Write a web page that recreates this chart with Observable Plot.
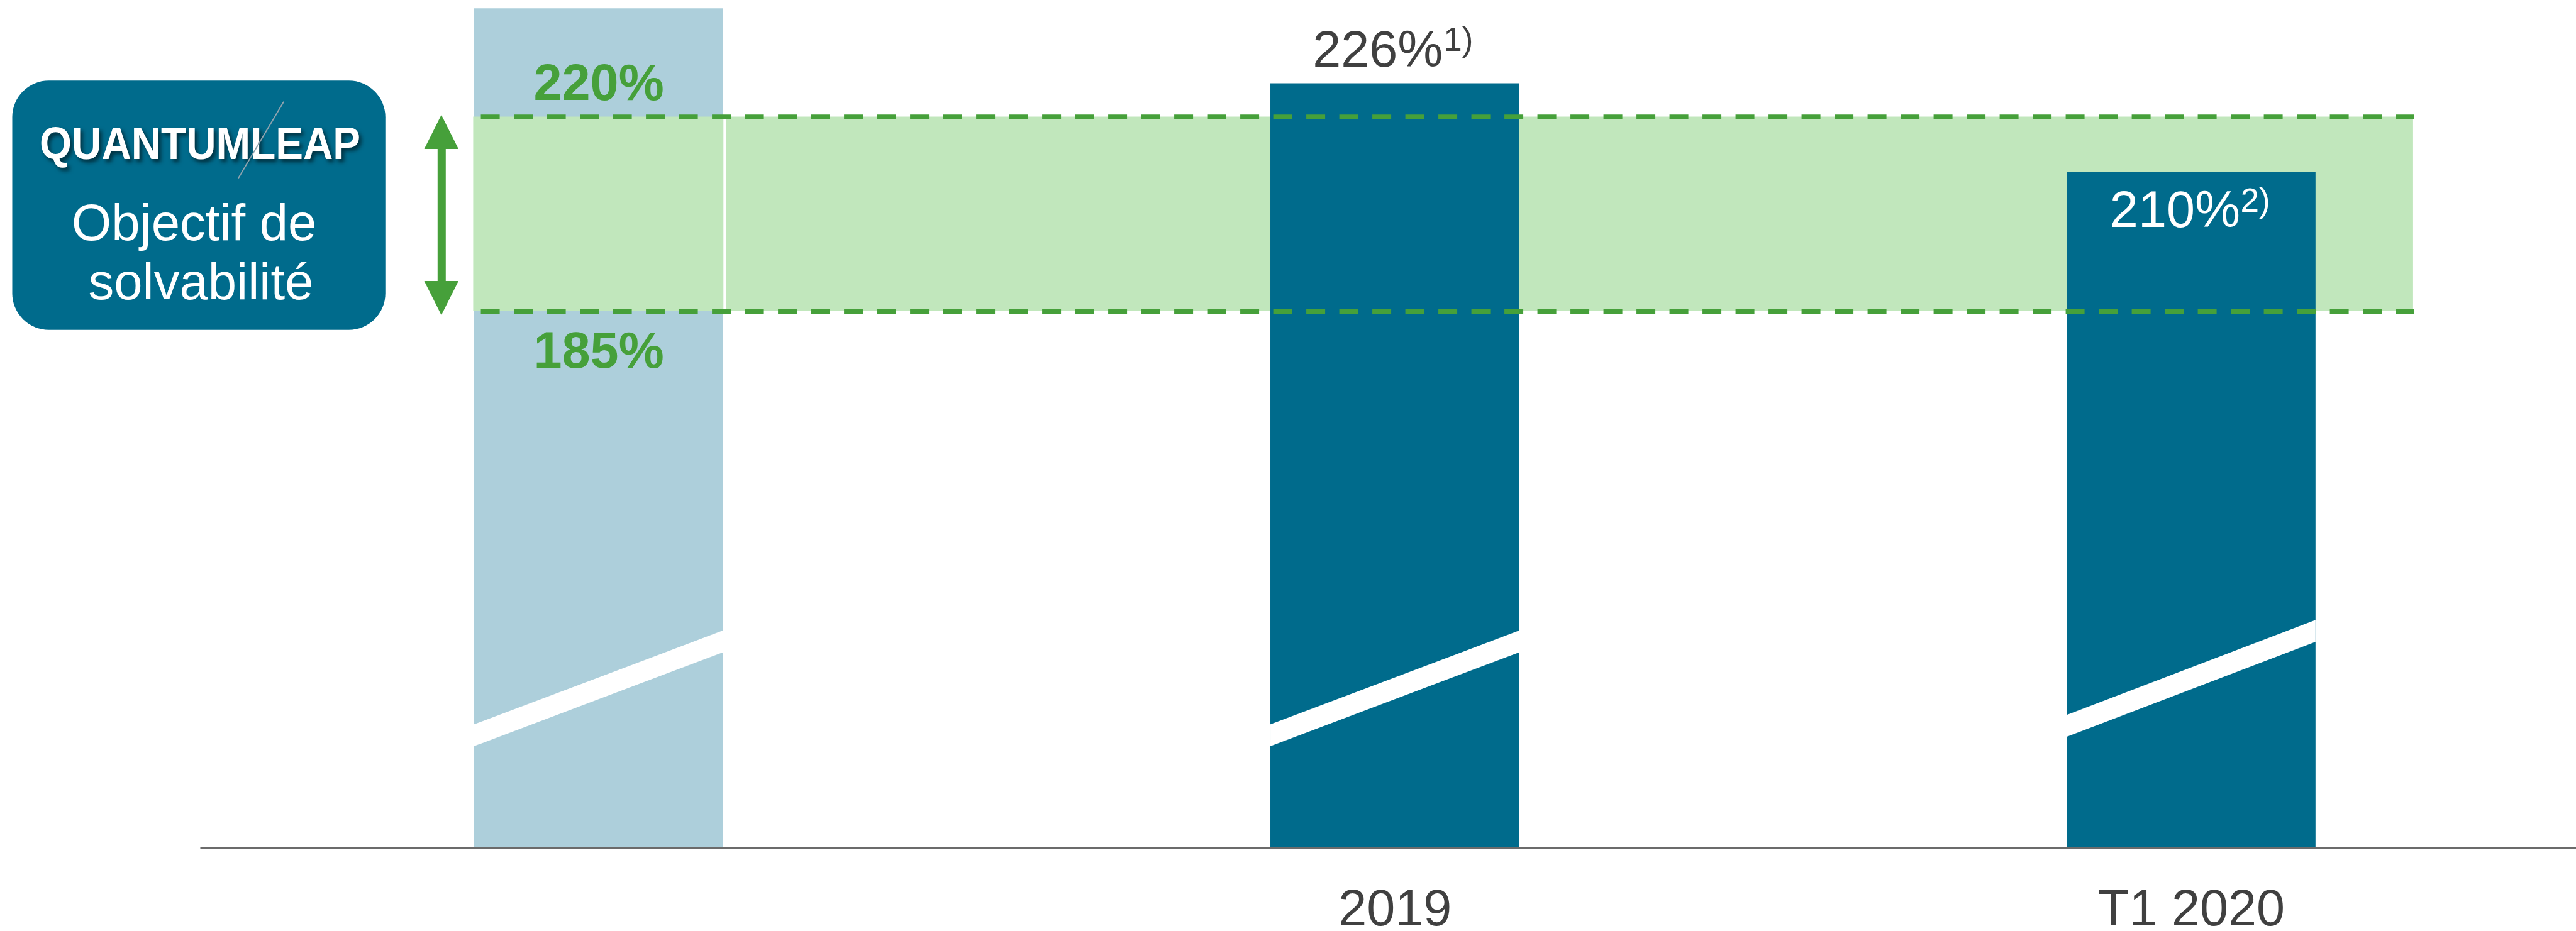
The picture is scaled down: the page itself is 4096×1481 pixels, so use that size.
<!DOCTYPE html>
<html>
<head>
<meta charset="utf-8">
<script src="https://cdn.jsdelivr.net/npm/d3@7"></script>
<script src="https://cdn.jsdelivr.net/npm/@observablehq/plot@0.6"></script>
<style>
  html, body { margin: 0; padding: 0; background: #ffffff; }
  #chart svg { display: block; }
</style>
</head>
<body>
<div id="chart"></div>
<script>
// ---------- data ----------
const categories   = ["", "2019", "T1 2020"];
const values       = [239.5, 226, 210];
const valueLabels  = [null, "226%", "210%"];
const footnotes    = [null, "1)", "2)"];
const targetRange  = [185, 220];
const targetLabels = ["185%", "220%"];
const boxTitle     = "QUANTUMLEAP";
const boxLines     = ["Objectif de", "solvabilité"];
// axis-break marks (value at left / right bar edge, centre of the white band)
const breakLeft    = [108.6, 108.6, 110.3];
const breakRight   = [125.5, 125.5, 127.4];

// ---------- layout ----------
const W = 4096, H = 1481;
const base = 88.3;            // value at the (broken) baseline
const hw = 0.1562;            // half bar width (x units)
const breakHalf = 1.96;       // half thickness of the break band (value units)
const green = "#46a03a", dark = "#006b8c", light = "#adcfdb", band = "#c1e7bc", ink = "#404040";
const font = "'Liberation Sans', Arial, Helvetica, sans-serif";
// helpers to place annotations (reference pixels -> scale units)
const px = X => (X - 1014.5) / 1351;
const py = Y => 220 - (Y - 198) / 9.43;

const rows = categories.map((c, i) => ({i, c, v: values[i], label: valueLabels[i], note: footnotes[i]}));
const breaks = rows.flatMap(d => [
  {i: d.i, x: d.i - hw, y1: breakLeft[d.i] - breakHalf, y2: breakLeft[d.i] + breakHalf},
  {i: d.i, x: d.i + hw, y1: breakRight[d.i] - breakHalf, y2: breakRight[d.i] + breakHalf}
]);

const arrowX = px(748), tipTop = py(195), tipBot = py(535), headLen = 6.15, headHalf = 0.0215;
const heads = [
  {h: "top", x: arrowX - headHalf, y1: tipTop - headLen, y2: tipTop - headLen},
  {h: "top", x: arrowX,            y1: tipTop - headLen, y2: tipTop},
  {h: "top", x: arrowX + headHalf, y1: tipTop - headLen, y2: tipTop - headLen},
  {h: "bot", x: arrowX - headHalf, y1: tipBot + headLen, y2: tipBot + headLen},
  {h: "bot", x: arrowX,            y1: tipBot + headLen, y2: tipBot},
  {h: "bot", x: arrowX + headHalf, y1: tipBot + headLen, y2: tipBot + headLen}
];

const marks = [
  // light bar under the target band
  Plot.rect(rows.filter(d => d.i === 0), {x1: d => d.i - hw, x2: d => d.i + hw, y1: base, y2: "v", fill: light}),
  // target band
  Plot.rect([targetRange], {x1: px(802), x2: px(4093), y1: d => d[0], y2: d => d[1], fill: band}),
  Plot.ruleX([px(1228.5)], {y1: targetRange[0], y2: targetRange[1], stroke: "white", strokeWidth: 4.7}),
  // dark bars
  Plot.rect(rows.filter(d => d.i > 0), {x1: d => d.i - hw, x2: d => d.i + hw, y1: base, y2: "v", fill: dark}),
  // axis breaks
  Plot.areaY(breaks, {x: "x", y1: "y1", y2: "y2", z: "i", fill: "white", curve: "linear"}),
  // dashed target lines
  Plot.ruleY(targetRange, {x1: px(815), x2: px(4095), stroke: green, strokeWidth: 7.5, strokeDasharray: "30,22.5"}),
  // baseline
  Plot.ruleY([base], {x1: -0.5, x2: 2.4833, stroke: "#6b6b6b", strokeWidth: 3}),
  // category labels
  Plot.text(rows.filter(d => d.c), {x: "i", y: base, text: "c", dy: 122, lineAnchor: "bottom",
    fontSize: 81, fill: ink, fontFamily: font}),
  // target labels
  Plot.text([0], {x: 0, y: targetRange[1], text: () => targetLabels[1], dy: -27, lineAnchor: "bottom",
    fontSize: 81, fontWeight: "bold", fill: green, fontFamily: font}),
  Plot.text([0], {x: 0, y: targetRange[0], text: () => targetLabels[0], dy: 90, lineAnchor: "bottom",
    fontSize: 81, fontWeight: "bold", fill: green, fontFamily: font}),
  // value labels
  Plot.text(rows.filter(d => d.i === 1), {x: "i", y: "v", text: "label", textAnchor: "end", dx: 76, dy: -27,
    lineAnchor: "bottom", fontSize: 81, fill: ink, fontFamily: font}),
  Plot.text(rows.filter(d => d.i === 1), {x: "i", y: "v", text: "note", textAnchor: "start", dx: 77, dy: -52.5,
    lineAnchor: "bottom", fontSize: 53, fill: ink, fontFamily: font}),
  Plot.text(rows.filter(d => d.i === 2), {x: "i", y: "v", text: "label", textAnchor: "end", dx: 77.5, dy: 87,
    lineAnchor: "bottom", fontSize: 81, fill: "white", fontFamily: font}),
  Plot.text(rows.filter(d => d.i === 2), {x: "i", y: "v", text: "note", textAnchor: "start", dx: 78, dy: 63,
    lineAnchor: "bottom", fontSize: 53, fill: "white", fontFamily: font}),
  // QUANTUMLEAP box
  Plot.rect([0], {x1: px(20), x2: px(653), y1: py(560), y2: py(137), fill: dark, rx: 58}),
  Plot.text([boxTitle], {x: px(338), y: py(270), text: d => d, lineAnchor: "bottom",
    fontSize: 72, fontWeight: "bold", fill: "white", fontFamily: font}),
  Plot.link([0], {x1: px(403), y1: py(302), x2: px(480), y2: py(172), stroke: "#8fa3ae", strokeWidth: 2}),
  Plot.text([boxLines[0]], {x: px(328), y: py(407), text: d => d, lineAnchor: "bottom",
    fontSize: 81.5, fill: "white", fontFamily: font}),
  Plot.text([boxLines[1]], {x: px(339.5), y: py(508), text: d => d, lineAnchor: "bottom",
    fontSize: 81.5, fill: "white", fontFamily: font}),
  // green double arrow
  Plot.ruleX([arrowX], {y1: tipBot + headLen - 0.3, y2: tipTop - headLen + 0.3, stroke: green, strokeWidth: 13}),
  Plot.areaY(heads, {x: "x", y1: "y1", y2: "y2", z: "h", fill: green, curve: "linear"})
];

const chart = Plot.plot({
  width: W, height: H,
  marginLeft: 0, marginRight: 0, marginTop: 0, marginBottom: 132,
  x: {type: "linear", domain: [-0.7515, 2.4833], axis: null},
  y: {type: "linear", domain: [base, 241], axis: null},
  style: {background: "white", fontFamily: font, overflow: "visible"},
  marks
});

// title styling: condensed + drop shadow
d3.select(chart).selectAll("text").filter(function() { return this.textContent === boxTitle; })
  .attr("textLength", 510).attr("lengthAdjust", "spacingAndGlyphs")
  .style("filter", "drop-shadow(4px 5px 3px rgba(0,0,0,0.55))");

document.getElementById("chart").appendChild(chart);
</script>
</body>
</html>
